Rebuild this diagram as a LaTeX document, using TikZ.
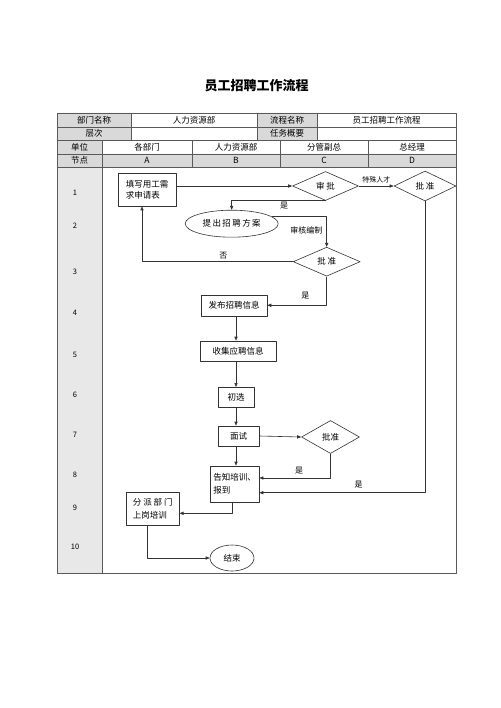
\documentclass[tikz,border=0pt]{standalone}
\usepackage{fontspec}
\setmainfont{Noto Sans CJK SC}
\usetikzlibrary{shapes.geometric,arrows.meta}
\definecolor{hdrgray}{RGB}{217,217,217}
\definecolor{colgray}{RGB}{232,232,232}
\begin{document}
\begin{tikzpicture}[x=1pt, y=-1pt, font=\fontsize{8.5}{11}\selectfont, line join=round, >={Triangle[length=4pt,width=3.2pt]},
	tline/.style={draw=black!65, line width=0.7pt},
	link/.style={draw=black!80, line width=0.6pt, ->},
	proc/.style={draw=black!80, line width=0.6pt, inner sep=0pt, align=left},
	choice/.style={draw=black!80, line width=0.6pt, diamond, aspect=2, inner sep=0pt},
	term/.style={draw=black!80, line width=0.6pt, ellipse, inner sep=0pt},
	lbl/.style={font=\fontsize{8}{9}\selectfont, inner sep=1pt}]
	\useasboundingbox (0,0) rectangle (500,708);
	% title
	\node[font=\fontsize{13}{15}\selectfont\bfseries] (title) at (256.7,86) {员工招聘工作流程};
	% table
	\fill[hdrgray] (57,113) rectangle (131,140) (257,113) rectangle (317,140)
		(57,140) rectangle (102,154) (57,154) rectangle (456,167);
	\fill[colgray] (57,167) rectangle (102,573);
	\draw[tline] (57,113) rectangle (456,573);
	\foreach \y in {127,140,154,167}{\draw[tline] (57,\y) -- (456,\y);}
	\foreach \x in {131,257,317}{\draw[tline] (\x,113) -- (\x,140);}
	\foreach \x in {192,280,368}{\draw[tline] (\x,140) -- (\x,167);}
	\draw[tline] (102,140) -- (102,573);
	\path
	(94,120) node (bmmc) {部门名称}
	(194,120) node (bmmcv) {人力资源部}
	(287,120) node (lcmc) {流程名称}
	(386.5,120) node (lcmcv) {员工招聘工作流程}
	(94,133.5) node (cc) {层次}
	(287,133.5) node (rwgy) {任务概要}
	(79.5,147) node (dw) {单位}
	(79.5,160.5) node (jd) {节点};
	\foreach \i/\x/\t in {1/147/各部门,2/236/人力资源部,3/324/分管副总,4/412/总经理}{\node (dw\i) at (\x,147) {\t};}
	\foreach \i/\x/\t in {1/147/A,2/236/B,3/324/C,4/412/D}{\node (jd\i) at (\x,160.5) {\t};}
	\foreach \n/\y in {1/193,2/226,3/272,4/313,5/355,6/395,7/435,8/475,9/508,10/547}{
		\node[font=\fontsize{7.5}{9}\selectfont] (row\n) at (75,\y) {\n};}
	% flow
	\node[proc, minimum width=58pt, minimum height=33pt] (req) at (147,189.5) {填写用工需\\求申请表};
	\node[choice, minimum width=66pt, minimum height=29pt] (sp1) at (325.5,186) {审\ 批};
	\node[choice, minimum width=62pt, minimum height=30pt] (zjl) at (425,186) {批\ 准};
	\node[term, minimum width=93pt, minimum height=27pt] (plan) at (231.7,223.7) {提\,出\,招\,聘\,方\,案};
	\node[choice, minimum width=67pt, minimum height=29pt] (pz) at (326.7,261.7) {批\ 准};
	\node[proc, minimum width=66pt, minimum height=21pt] (fb) at (234,305.3) {发布招聘信息};
	\node[proc, minimum width=76pt, minimum height=20pt] (sj) at (238,351) {收集应聘信息};
	\node[proc, minimum width=36pt, minimum height=20pt] (cx) at (236,397.3) {初选};
	\node[proc, minimum width=41pt, minimum height=20pt] (ms) at (238.6,436) {面试};
	\node[choice, minimum width=58pt, minimum height=33pt] (pz2) at (330.5,437) {批准};
	\node[proc, minimum width=49pt, minimum height=36pt, font=\fontsize{8.5}{13}\selectfont] (gz) at (234.5,484) {告知培训、\\报到};
	\node[proc, minimum width=53pt, minimum height=33pt, font=\fontsize{8.5}{13}\selectfont] (fp) at (152.7,508.7) {分\ 派\ 部\ 门\\上岗培训};
	\node[term, minimum width=44pt, minimum height=26pt] (js) at (232,558) {结束};
	% connectors
	\draw[link] (req.east |- sp1.west) -- (sp1.west);
	\draw[link] (sp1.east) -- node[lbl, above=2pt, font=\fontsize{7}{8}\selectfont] (tsrc) {特殊人才} (zjl.west);
	\draw[link] (sp1.south) -| (plan.north) node[lbl, pos=0.22, below] (yes1) {是};
	\draw[link] (plan.10) -| (pz.north) node[lbl, pos=0.72, left=3pt] (shbz) {审核编制};
	\draw[link] (pz.west) -| ([xshift=-5pt]req.south) node[lbl, pos=0.23, above=1pt] (no1) {否};
	\draw[link] (pz.south) |- (fb.east) node[lbl, pos=0.34, left=16pt] (yes2) {是};
	\foreach \a/\b in {fb/sj,sj/cx,cx/ms,ms/gz}{\draw[link] (\a.south -| cx.north) -- (\b.north -| cx.north);}
	\draw[link] (ms.east) -- (pz2.west);
	\draw[link] (pz2.south) |- ([yshift=6pt]gz.east) node[lbl, pos=0.72, above=3pt] (yes3) {是};
	\draw[link] (zjl.south) |- ([yshift=-8.7pt]gz.east) node[lbl, pos=0.70, above=3pt] (yes4) {是};
	\draw[link] ([xshift=-2pt]gz.south) |- ([yshift=-4.6pt]fp.east);
	\draw[link] ([xshift=-5pt]fp.south) |- (js.west);
\end{tikzpicture}
\end{document}
